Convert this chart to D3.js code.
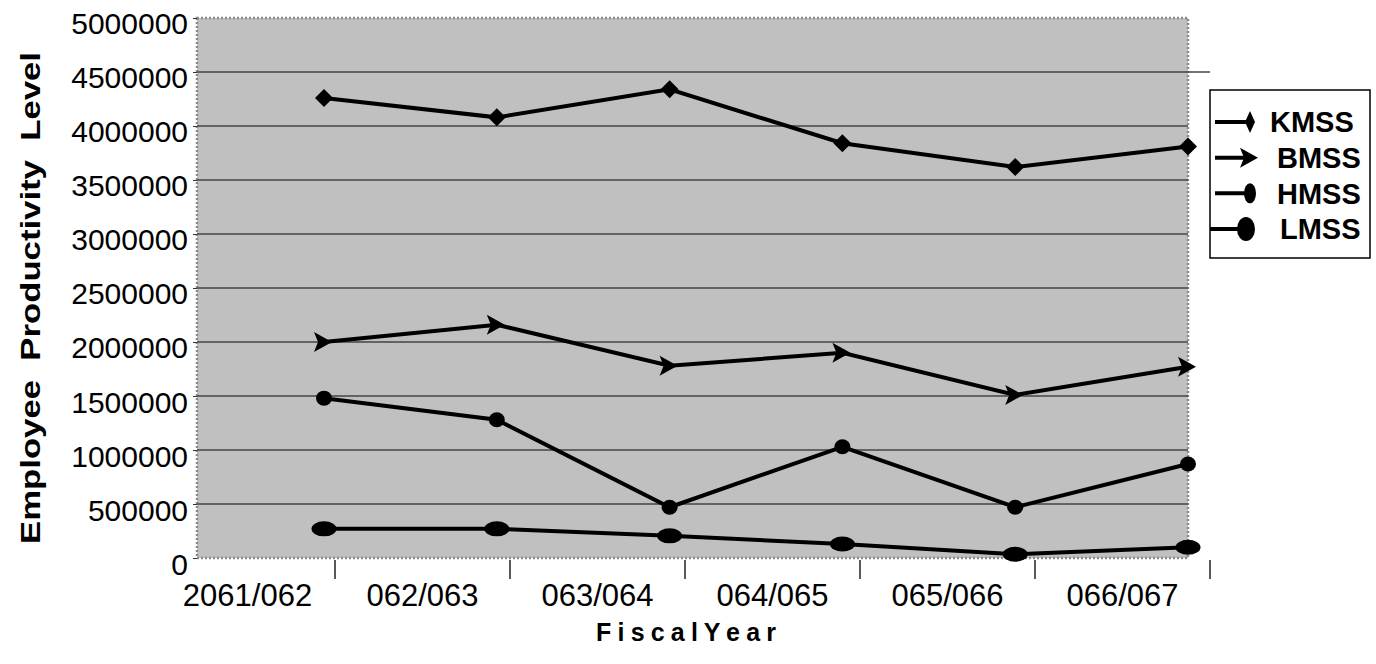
<html lang="en">
  <head>
    <meta charset="utf-8">
    <title>Employee Productivity Level</title>
    <script src="https://d3js.org/d3.v7.min.js"></script>
    <style>
      body { margin: 0; background: #fff; }
      text { font-family: Arial, "Liberation Sans", sans-serif; }
    </style>
  </head>
  <body>
    <script type="text/javascript">
      var w = 1376;
      var h = 664;
      var plot = {left: 197, right: 1188, top: 18, bottom: 558};

      var years = ["2061/062", "062/063", "063/064", "064/065", "065/066", "066/067"];
      var kmss = [4260000, 4080000, 4340000, 3840000, 3620000, 3810000];
      var bmss = [2000000, 2160000, 1780000, 1900000, 1510000, 1770000];
      var hmss = [1480000, 1280000, 470000, 1030000, 470000, 870000];
      var lmss = [270000, 270000, 205000, 130000, 35000, 100000];
      var yTicks = d3.range(0, 5000001, 500000);
      var seriesNames = ["KMSS", "BMSS", "HMSS", "LMSS"];

      var series = [
        {name: "KMSS", values: kmss, marker: "diamond"},
        {name: "BMSS", values: bmss, marker: "arrow"},
        {name: "HMSS", values: hmss, marker: "circle"},
        {name: "LMSS", values: lmss, marker: "ellipse"}
      ];

      var xBand = d3.scaleBand()
                    .domain(years)
                    .range([160, 1210]);
      // data points sit near the right edge of each category band
      var xPoint = d3.scalePoint()
                     .domain(years)
                     .range([324, 1188]);
      var yScale = d3.scaleLinear()
                     .domain([0, 5000000])
                     .range([plot.bottom, plot.top]);

      var svg = d3.select("body")
                  .append("svg")
                  .attr("width", w)
                  .attr("height", h);

      // plot area
      svg.append("rect")
         .attr("x", plot.left)
         .attr("y", plot.top)
         .attr("width", plot.right - plot.left)
         .attr("height", plot.bottom - plot.top)
         .attr("fill", "#c0c0c0")
         .attr("stroke", "#8a8a8a")
         .attr("stroke-width", 2.5)
         .attr("stroke-dasharray", "2,2");

      // gridlines
      svg.append("g")
         .selectAll("line")
         .data(yTicks.filter(d => d > 0 && d < 5000000))
         .enter()
         .append("line")
         .attr("x1", plot.left)
         .attr("x2", d => d === 4500000 ? 1210 : plot.right)
         .attr("y1", d => yScale(d))
         .attr("y2", d => yScale(d))
         .attr("stroke", "#454545")
         .attr("stroke-width", 1.5);

      // y axis
      var yAxis = d3.axisLeft(yScale)
                    .tickValues(yTicks)
                    .tickFormat(d3.format("d"))
                    .tickSize(4)
                    .tickPadding(5);
      var gy = svg.append("g")
                  .attr("transform", `translate(${plot.left}, 0)`)
                  .call(yAxis);
      gy.select(".domain").remove();
      gy.selectAll(".tick line").attr("stroke", "#333");
      gy.selectAll(".tick text")
        .attr("font-size", 30)
        .attr("fill", "#000")
        .attr("dy", d => (0.35 + d / 5000000 * -0.05 + 0.2) + "em");

      // x axis
      var xAxis = d3.axisBottom(xBand)
                    .tickSize(0)
                    .tickPadding(24);
      var gx = svg.append("g")
                  .attr("transform", `translate(0, ${plot.bottom + 2})`)
                  .call(xAxis);
      gx.select(".domain").remove();
      gx.selectAll(".tick text")
        .attr("font-size", 31)
        .attr("fill", "#000");
      // tick marks at category boundaries
      gx.selectAll("line.sep")
        .data(years)
        .enter()
        .append("line")
        .attr("class", "sep")
        .attr("x1", d => xBand(d) + xBand.bandwidth())
        .attr("x2", d => xBand(d) + xBand.bandwidth())
        .attr("y1", 0)
        .attr("y2", 19)
        .attr("stroke", "#222")
        .attr("stroke-width", 1.5);

      // axis titles
      svg.append("text")
         .attr("transform", `translate(40, ${(plot.top + plot.bottom) / 2 + 10}) rotate(-90)`)
         .attr("text-anchor", "middle")
         .attr("font-size", 28)
         .attr("font-weight", "bold")
         .attr("textLength", 492)
         .attr("lengthAdjust", "spacingAndGlyphs")
         .style("white-space", "pre")
         .text("Employee  Productivity  Level");
      svg.append("text")
         .attr("x", 686)
         .attr("y", 641)
         .attr("text-anchor", "middle")
         .attr("font-size", 25)
         .attr("font-weight", "bold")
         .attr("textLength", 180)
         .attr("lengthAdjust", "spacing")
         .text("F i s c a l Y e a r");

      // marker shapes
      function drawMarker(g, type, x, y, legendStyle) {
        if (type === "diamond") {
          g.append("path")
           .attr("d", legendStyle ? "M-5,0 L0,-11 L5,0 L0,11 Z" : "M-9,0 L0,-9 L9,0 L0,9 Z")
           .attr("transform", `translate(${x},${y})`)
           .attr("fill", "#000");
        } else if (type === "arrow") {
          g.append("path")
           .attr("d", "M-10,-10 L8,0 L-10,10 L-6,0 Z")
           .attr("transform", `translate(${x},${y})`)
           .attr("fill", "#000");
        } else if (type === "circle") {
          g.append("ellipse")
           .attr("cx", x).attr("cy", y)
           .attr("rx", legendStyle ? 6 : 8).attr("ry", legendStyle ? 10 : 7.5)
           .attr("fill", "#000");
        } else {
          g.append("ellipse")
           .attr("cx", x).attr("cy", y)
           .attr("rx", legendStyle ? 9 : 12.5).attr("ry", legendStyle ? 12 : 7.5)
           .attr("fill", "#000");
        }
      }

      var line = d3.line()
                   .x((d, i) => xPoint(years[i]))
                   .y(d => yScale(d));

      series.forEach(function (s) {
        var g = svg.append("g");
        g.append("path")
         .datum(s.values)
         .attr("d", line)
         .attr("fill", "none")
         .attr("stroke", "#000")
         .attr("stroke-width", 4);
        s.values.forEach(function (v, i) {
          drawMarker(g, s.marker, xPoint(years[i]), yScale(v), false);
        });
      });

      // legend
      var legend = svg.append("g")
                      .attr("transform", "translate(1210, 90)");
      legend.append("rect")
            .attr("width", 160)
            .attr("height", 168)
            .attr("fill", "#fff")
            .attr("stroke", "#000")
            .attr("stroke-width", 1.5);
      var legendY = d3.scalePoint()
                      .domain(seriesNames)
                      .range([32, 139]);
      series.forEach(function (s) {
        var ly = legendY(s.name);
        legend.append("line")
              .attr("x1", s.name === "LMSS" ? 0 : 5)
              .attr("x2", 38)
              .attr("y1", ly)
              .attr("y2", ly)
              .attr("stroke", "#000")
              .attr("stroke-width", 4);
        drawMarker(legend, s.marker, s.name === "LMSS" ? 36 : 40, ly, true);
        legend.append("text")
              .attr("x", s.name === "KMSS" ? 60 : (s.name === "LMSS" ? 70 : 67))
              .attr("y", ly)
              .attr("dy", "0.36em")
              .attr("font-size", 29)
              .attr("font-weight", "bold")
              .text(s.name);
      });
    </script>
  </body>
</html>
